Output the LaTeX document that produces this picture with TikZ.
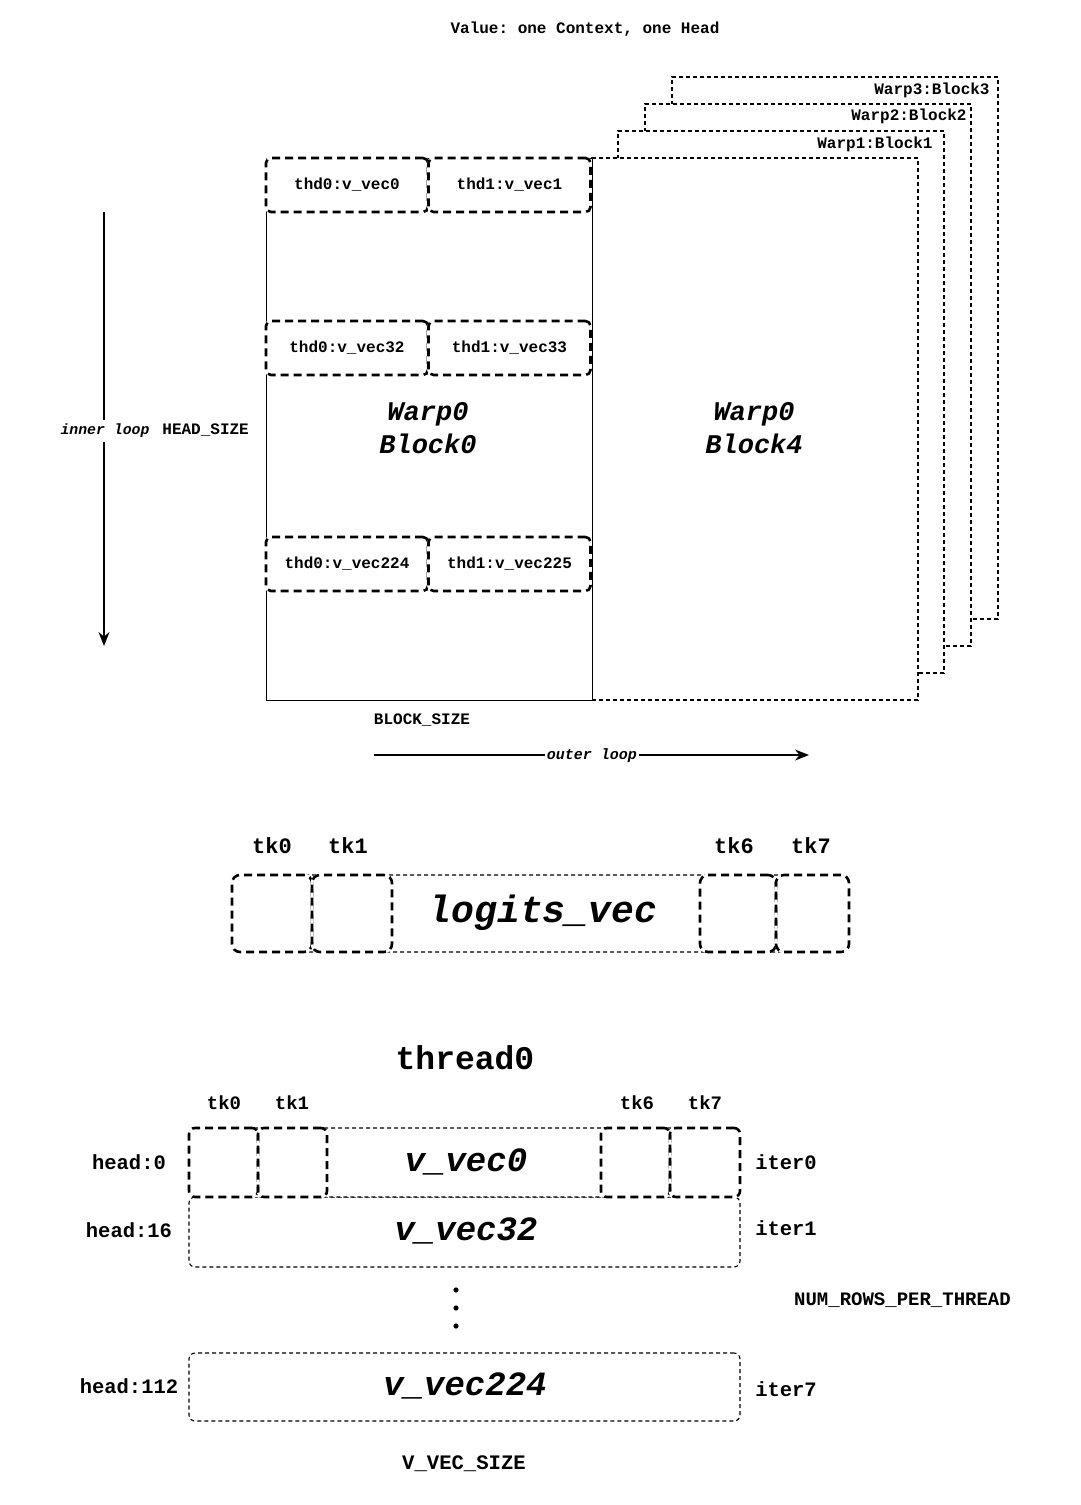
\documentclass[tikz,border=0pt]{standalone}
\usepackage{fontspec}
\setmonofont{Liberation Mono}
\usetikzlibrary{arrows.meta}
\newcommand\pxf[1]{\fontsize{#1}{1.2\dimexpr#1pt\relax}\selectfont}
\begin{document}
\begin{tikzpicture}[x=0.5pt,y=-0.5pt,
  every node/.style={font=\ttfamily\bfseries, inner sep=0pt},
  lbl/.style={font=\ttfamily\bfseries\pxf{#1}},
  ilbl/.style={font=\ttfamily\bfseries\itshape\pxf{#1}},
  thinbox/.style={draw, fill=white, line width=0.55pt, dash pattern=on 2pt off 1.5pt},
  thickbox/.style={draw, line width=1.3pt, dash pattern=on 4pt off 2.5pt,
     preaction={draw=white, solid}},
  arr/.style={-{Stealth[length=7pt,width=5.5pt]}, line width=0.6pt}
]
\useasboundingbox (0,0) rectangle (1081,1505);

% title
\node[lbl=8] (title) at (585,29) {Value: one Context, one Head};

% stacked blocks (back to front)
\node[thinbox, minimum width=163pt, minimum height=271pt] (w3) at (835,348) {};
\node[thinbox, minimum width=163pt, minimum height=271pt] (w2) at (808,375) {};
\node[thinbox, minimum width=163pt, minimum height=271pt] (w1) at (781,402) {};
\node[thinbox, minimum width=163pt, minimum height=271pt] (b4) at (755,429) {};
\node[draw, fill=white, line width=0.5pt, minimum width=163pt, minimum height=271pt] (b0) at (429,429) {};

\node[lbl=8, anchor=east] (w3l) at (990,90) {Warp3:Block3};
\node[lbl=8, anchor=east] (w2l) at (967,116) {Warp2:Block2};
\node[lbl=8, anchor=east] (w1l) at (933,144) {Warp1:Block1};

\node[ilbl=13.5, align=center] (b0l) at (428,428) {Warp0\\Block0};
\node[ilbl=13.5, align=center] (b4l) at (754,428) {Warp0\\Block4};

% thread boxes
\tikzset{thd/.style={thickbox, rounded corners=2.5pt, minimum width=81pt, minimum height=27pt, lbl=8}}
\node[thd] (t0a) at (347,185) {thd0:v\_vec0};
\node[thd] (t1a) at (509.5,185) {thd1:v\_vec1};
\node[thd] (t0b) at (347,348) {thd0:v\_vec32};
\node[thd] (t1b) at (509.5,348) {thd1:v\_vec33};
\node[thd] (t0c) at (347,564) {thd0:v\_vec224};
\node[thd] (t1c) at (509.5,564) {thd1:v\_vec225};

% inner loop arrow
\coordinate (ia) at (104,212);
\coordinate (ib) at (104,646);
\draw[arr] (ia) -- (ib);
\node[ilbl=7.4, fill=white, inner ysep=2pt] (il) at (105,431) {inner loop};
\node[lbl=8, anchor=west] (hs) at (162,430) {HEAD\_SIZE};

% outer loop
\node[lbl=8] (bs) at (422,720) {BLOCK\_SIZE};
\coordinate (oa) at (374,755);
\coordinate (ob) at (809,755);
\draw[arr] (oa) -- (ob);
\node[ilbl=7.5, fill=white, inner xsep=1pt] (ol) at (592,756) {outer loop};

% logits_vec
\node[thinbox, rounded corners=4pt, minimum width=308.5pt, minimum height=38.5pt] (lv) at (540.5,913.5) {};
\tikzset{tkl/.style={thickbox, rounded corners=4pt, minimum height=38.5pt}}
\node[tkl, minimum width=40pt] (lk0) at (272,913.5) {};
\node[tkl, minimum width=40pt] (lk1) at (352,913.5) {};
\node[tkl, minimum width=38pt] (lk6) at (738,913.5) {};
\node[tkl, minimum width=36.5pt] (lk7) at (812.5,913.5) {};
\node[ilbl=19] (lvt) at (543,913) {logits\_vec};
\node[lbl=11] (lt0) at (272,846) {tk0};
\node[lbl=11] (lt1) at (348,846) {tk1};
\node[lbl=11] (lt6) at (734,846) {tk6};
\node[lbl=11] (lt7) at (811,846) {tk7};

% thread0
\node[lbl=16.5] (th) at (465,1058) {thread0};
\node[lbl=9.5] (bt0) at (224,1103) {tk0};
\node[lbl=9.5] (bt1) at (292,1103) {tk1};
\node[lbl=9.5] (bt6) at (637,1103) {tk6};
\node[lbl=9.5] (bt7) at (705,1103) {tk7};

\node[thinbox, rounded corners=3pt, minimum width=275.5pt, minimum height=35pt] (r1) at (464.5,1232) {};
\node[thinbox, rounded corners=3pt, minimum width=275.5pt, minimum height=34.5pt] (r0) at (464.5,1162.5) {};
\tikzset{tkb/.style={thickbox, rounded corners=3pt, minimum height=34.5pt}}
\node[tkb, minimum width=34.5pt] (bk0) at (223.5,1162.5) {};
\node[tkb, minimum width=34.5pt] (bk1) at (292.5,1162.5) {};
\node[tkb, minimum width=34.5pt] (bk6) at (635.5,1162.5) {};
\node[tkb, minimum width=35pt] (bk7) at (705,1162.5) {};
\node[thinbox, rounded corners=3pt, minimum width=275.5pt, minimum height=34pt] (r7) at (464.5,1387) {};

\node[ilbl=17] (r0t) at (466,1162) {v\_vec0};
\node[ilbl=17] (r1t) at (466,1231) {v\_vec32};
\node[ilbl=17] (r7t) at (465,1386) {v\_vec224};

\node[circle, fill, minimum size=2.6pt] (d1) at (456,1290) {};
\node[circle, fill, minimum size=2.6pt] (d2) at (456,1308) {};
\node[circle, fill, minimum size=2.6pt] (d3) at (456,1326) {};

\node[lbl=10.25] (h0) at (129,1162) {head:0};
\node[lbl=10.25] (h1) at (129,1230) {head:16};
\node[lbl=10.25] (h7) at (129,1386) {head:112};
\node[lbl=10.25] (i0) at (786,1162) {iter0};
\node[lbl=10.25] (i1) at (786,1228) {iter1};
\node[lbl=10.25] (i7) at (786,1389) {iter7};

\node[lbl=9.5] (nr) at (902.5,1300) {NUM\_ROWS\_PER\_THREAD};
\node[lbl=10.3] (vs) at (464,1464) {V\_VEC\_SIZE};
\end{tikzpicture}
\end{document}
